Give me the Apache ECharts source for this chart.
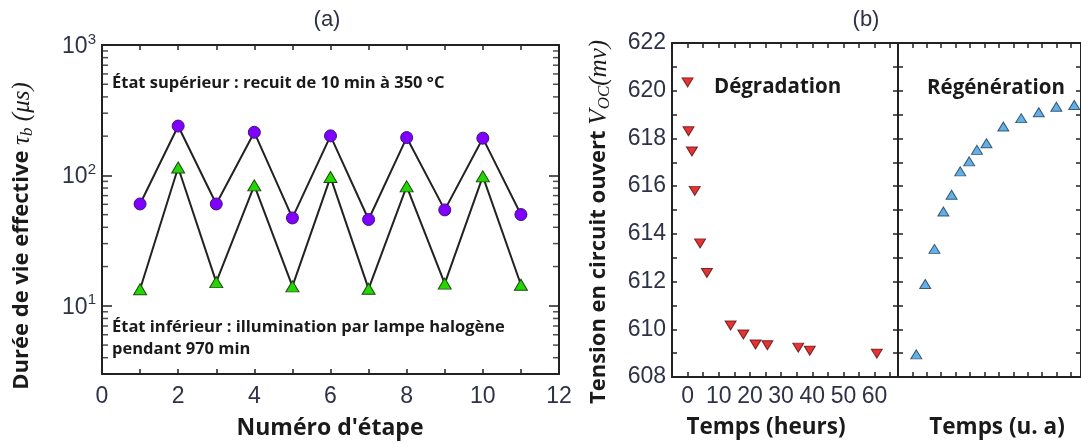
<!DOCTYPE html>
<html>
<head>
<meta charset="utf-8">
<script src="https://cdn.jsdelivr.net/npm/echarts@6/dist/echarts.min.js"></script>
<style>
  html, body { margin: 0; padding: 0; background: #fff; }
  #chart { width: 1081px; height: 444px; }
</style>
</head>
<body>
<div id="chart"></div>
<script>
// (a) lifetime over the anneal / illumination cycles
const etapes = [1, 2, 3, 4, 5, 6, 7, 8, 9, 10, 11]
const tauHaut = [60.4, 239, 60.4, 214, 47.2, 201, 45.9, 195, 54.4, 193, 50.1]
const tauBas = [13.4, 115, 15.2, 83.9, 14.1, 97.1, 13.5, 82.4, 14.8, 98.3, 14.5]
const logMinorTicks = [4, 5, 6, 7, 8, 9, 20, 30, 40, 50, 60, 70, 80, 90, 200, 300, 400, 500, 600, 700, 800, 900]

// (b) Voc, degradation then regeneration
const degTemps = [0, 0.3, 1.4, 2.3, 4.0, 6.2, 13.8, 17.9, 21.8, 25.6, 35.5, 39.2, 60.7]
const degVoc = [620.35, 618.3, 617.45, 615.8, 613.6, 612.36, 610.16, 609.78, 609.36, 609.33, 609.23, 609.1, 608.98]
const regTemps = [1.27, 1.89, 2.53, 3.15, 3.72, 4.32, 4.94, 5.48, 6.14, 7.31, 8.55, 9.77, 10.99, 12.23]
const regVoc = [608.95, 611.9, 613.37, 614.94, 615.64, 616.62, 617.04, 617.52, 617.8, 618.5, 618.85, 619.1, 619.33, 619.4]
const degLabels = [0, 10, 20, 30, 40, 50, 60]

const ink = '#222'
const numColor = '#2e3148'
const textColor = '#1a1a1a'
const numFont = '"Liberation Sans", Arial, sans-serif'
const boldFont = '"Open Sans", sans-serif'
const mathFont = '"Liberation Serif", serif'

const chart = echarts.init(document.getElementById('chart'))

// plain frame side: line + inward ticks, no labels
function side(opts) {
  return Object.assign({
    type: 'value',
    axisLine: { show: true, onZero: false, lineStyle: { color: ink, width: 2 } },
    axisTick: { show: true, inside: true, length: 5, lineStyle: { color: ink, width: 1.5 } },
    axisLabel: { show: false },
    splitLine: { show: false },
  }, opts)
}

const minor = { show: true, splitNumber: 2, length: 5, lineStyle: { color: ink, width: 1.5 } }

const numLabel = {
  show: true,
  color: numColor,
  fontFamily: numFont,
  fontSize: 23,
}

const powLabel = Object.assign({}, numLabel, {
  margin: 6,
  formatter: (v) => {
    const p = Math.log10(v)
    if (Math.abs(p - Math.round(p)) > 1e-6) return ''
    return '{b|10}{s|' + Math.round(p) + '}'
  },
  rich: {
    b: { fontFamily: numFont, fontSize: 23, color: numColor, lineHeight: 26, verticalAlign: 'bottom' },
    s: { fontFamily: numFont, fontSize: 15, color: numColor, lineHeight: 26, verticalAlign: 'top', padding: [0, 0, 8, 0] },
  },
})

const logAxis = { type: 'log', logBase: 10, min: 3, max: 1000 }

function txt(x, y, text, font, align, fill) {
  return {
    type: 'text',
    x: x,
    y: y,
    silent: true,
    style: { text: text, font: font, fill: fill || textColor, align: align || 'left', verticalAlign: 'middle' },
  }
}

function yTitle(x, y, text) {
  return {
    type: 'text', x: x, y: y, rotation: Math.PI / 2, silent: true,
    style: {
      text: text,
      align: 'center', verticalAlign: 'middle',
      rich: {
        b: { font: 'bold 22px ' + boldFont, fill: textColor, lineHeight: 29 },
        m: { font: 'italic 25px ' + mathFont, fill: textColor, lineHeight: 29 },
        s: { font: 'italic 17px ' + mathFont, fill: textColor, lineHeight: 15, verticalAlign: 'bottom' },
      },
    },
  }
}

const option = {
  animation: false,
  grid: [
    { left: 102, top: 45, width: 457, height: 329 },
    { left: 672, top: 43, width: 226, height: 334 },
    { left: 898, top: 43, width: 185, height: 334 },
  ],
  xAxis: [
    side({
      gridIndex: 0, position: 'bottom', min: 0, max: 12, interval: 2, minorTick: minor,
      axisLabel: Object.assign({}, numLabel, { margin: 11 }),
    }),
    side({ gridIndex: 0, position: 'top', min: 0, max: 12, interval: 2, minorTick: minor }),
    side({
      gridIndex: 1, position: 'bottom', min: -5, max: 67.5, interval: 5,
      axisLabel: Object.assign({}, numLabel, {
        margin: 8,
        formatter: (v) => (degLabels.indexOf(v) >= 0 ? String(v) : ''),
      }),
    }),
    side({ gridIndex: 1, position: 'top', min: -5, max: 67.5, interval: 5 }),
    side({ gridIndex: 2, position: 'bottom', min: 0, max: 12.7, interval: 1 }),
    side({ gridIndex: 2, position: 'top', min: 0, max: 12.7, interval: 1 }),
  ],
  yAxis: [
    side(Object.assign({ gridIndex: 0, position: 'left', axisLabel: powLabel }, logAxis, {
      axisTick: { show: true, inside: true, length: 10, lineStyle: { color: ink, width: 1.5 } },
    })),
    side(Object.assign({ gridIndex: 0, position: 'right' }, logAxis, {
      axisTick: { show: true, inside: true, length: 10, lineStyle: { color: ink, width: 1.5 } },
    })),
    side({
      gridIndex: 1, position: 'left', min: 608, max: 622, interval: 2, minorTick: minor,
      axisLabel: Object.assign({}, numLabel, { margin: 6 }),
    }),
    side({ gridIndex: 1, position: 'right', min: 608, max: 622, interval: 2, minorTick: minor }),
    side({ gridIndex: 2, position: 'left', min: 608, max: 622, interval: 2, minorTick: minor }),
    side({ gridIndex: 2, position: 'right', min: 608, max: 622, interval: 2, minorTick: minor }),
  ],
  series: [
    // minor log ticks on both sides of panel (a)
    {
      type: 'scatter', xAxisIndex: 0, yAxisIndex: 0, silent: true, clip: false, z: 5,
      data: logMinorTicks.map((v) => [0, v]),
      symbol: 'rect', symbolSize: [6, 1.5], symbolOffset: [3, 0],
      itemStyle: { color: ink },
    },
    {
      type: 'scatter', xAxisIndex: 0, yAxisIndex: 0, silent: true, clip: false, z: 5,
      data: logMinorTicks.map((v) => [12, v]),
      symbol: 'rect', symbolSize: [6, 1.5], symbolOffset: [-3, 0],
      itemStyle: { color: ink },
    },
    {
      name: 'haut', type: 'line', xAxisIndex: 0, yAxisIndex: 0,
      data: etapes.map((x, i) => [x, tauHaut[i]]),
      symbol: 'circle', symbolSize: 12, showAllSymbol: true,
      lineStyle: { color: ink, width: 2 },
      itemStyle: { color: '#8000ff', borderColor: '#3b1470', borderWidth: 1 },
      z: 3,
    },
    {
      name: 'bas', type: 'line', xAxisIndex: 0, yAxisIndex: 0,
      data: etapes.map((x, i) => [x, tauBas[i]]),
      symbol: 'triangle', symbolSize: [13, 11], showAllSymbol: true,
      lineStyle: { color: ink, width: 2 },
      itemStyle: { color: '#22d800', borderColor: '#1d4a12', borderWidth: 1 },
      z: 3,
    },
    {
      name: 'Dégradation', type: 'scatter', xAxisIndex: 2, yAxisIndex: 2,
      data: degTemps.map((x, i) => [x, degVoc[i]]),
      symbol: 'triangle', symbolRotate: 180, symbolSize: [11, 9],
      itemStyle: { color: '#e00000', borderColor: '#5a0a0a', borderWidth: 1 },
    },
    {
      name: 'Régénération', type: 'scatter', xAxisIndex: 4, yAxisIndex: 4,
      data: regTemps.map((x, i) => [x, regVoc[i]]),
      symbol: 'triangle', symbolSize: [11, 9],
      itemStyle: { color: '#3a9ee0', borderColor: '#1b3a58', borderWidth: 1 },
    },
  ],
  graphic: [
    txt(327, 20, '(a)', '22px ' + numFont, 'center', numColor),
    txt(866, 20, '(b)', '22px ' + numFont, 'center', numColor),
    txt(112, 83, 'État supérieur : recuit de 10 min à 350 °C', 'bold 16.5px ' + boldFont),
    txt(112, 327, 'État inférieur : illumination par lampe halogène', 'bold 16.5px ' + boldFont),
    txt(112, 349, 'pendant 970 min', 'bold 16.5px ' + boldFont),
    txt(714, 87, 'Dégradation', 'bold 20.5px ' + boldFont),
    txt(927, 88, 'Régénération', 'bold 20.5px ' + boldFont),
    txt(330, 428, "Numéro d'étape", 'bold 23px ' + boldFont, 'center'),
    txt(766, 428, 'Temps (heurs)', 'bold 22.5px ' + boldFont, 'center'),
    txt(997, 428, 'Temps (u. a)', 'bold 22.5px ' + boldFont, 'center'),
    yTitle(22, 236, '{b|Durée de vie effective }{m|τ}{s|b}{m| (μs)}'),
    yTitle(599, 222, '{b|Tension en circuit ouvert }{m|V}{s|OC}{m|(mv)}'),
  ],
}

chart.setOption(option)
</script>
</body>
</html>
